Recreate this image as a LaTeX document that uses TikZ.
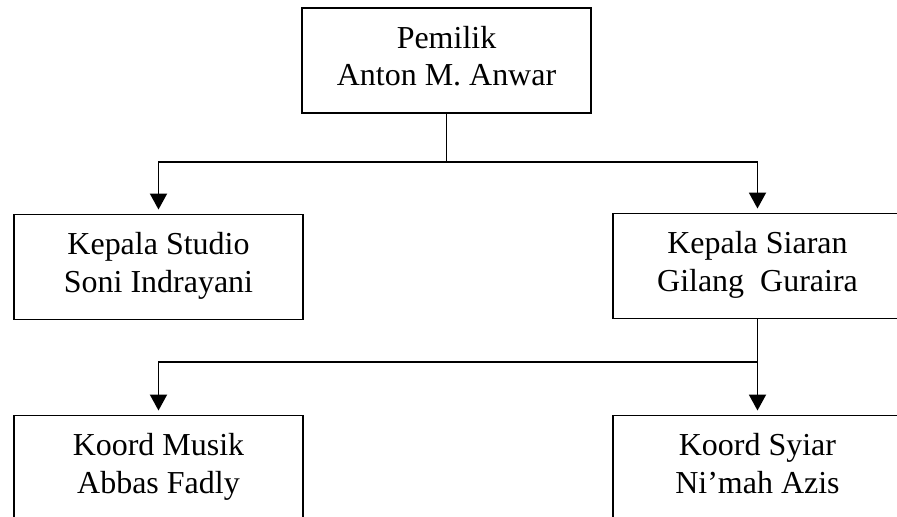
\documentclass[tikz,border=0pt]{standalone}
\usepackage{fontspec}
\setmainfont{Liberation Serif}
\usetikzlibrary{arrows.meta}
\begin{document}
\begin{tikzpicture}[x=0.02cm, y=-0.02cm,
	kotak/.style={draw, line width=1.1pt, minimum width=5.78cm, minimum height=2.1cm,
		inner sep=0pt, align=center, text height=1.2cm, text depth=0.18cm,
		font=\fontsize{18.2}{21.6}\selectfont},
	garis/.style={line width=1.1pt},
	panah/.style={line width=1.1pt, shorten >=0.08cm, -{Triangle[width=0.34cm, length=0.32cm]}}]
		\useasboundingbox (0,0) rectangle (897,517);
		\clip (0,0) rectangle (897,517);
		
		\node[kotak] (pemilik) at (446.5, 60.5) {Pemilik \\ Anton M. Anwar};
		\node[kotak] (studio) at (158.5, 267) {Kepala Studio \\ Soni Indrayani};
		\node[kotak] (siaran) at (757.5, 266) {Kepala Siaran \\ Gilang\ \ Guraira};
		\node[kotak] (musik) at (158.5, 468) {Koord Musik \\ Abbas Fadly};
		\node[kotak] (syiar) at (757.5, 468) {Koord Syiar \\ Ni'mah Azis};
		
		\coordinate (B1) at (446.5, 162);
		\coordinate (B2) at (757.5, 362);
		
		\draw [garis] (pemilik.south) -- (B1);
		\draw [panah] (B1) -| (studio.north);
		\draw [panah] (B1) -| (siaran.north);
		\draw [panah] (siaran.south) -- (syiar.north);
		\draw [panah] (B2) -| (musik.north);
	\end{tikzpicture}
\end{document}
